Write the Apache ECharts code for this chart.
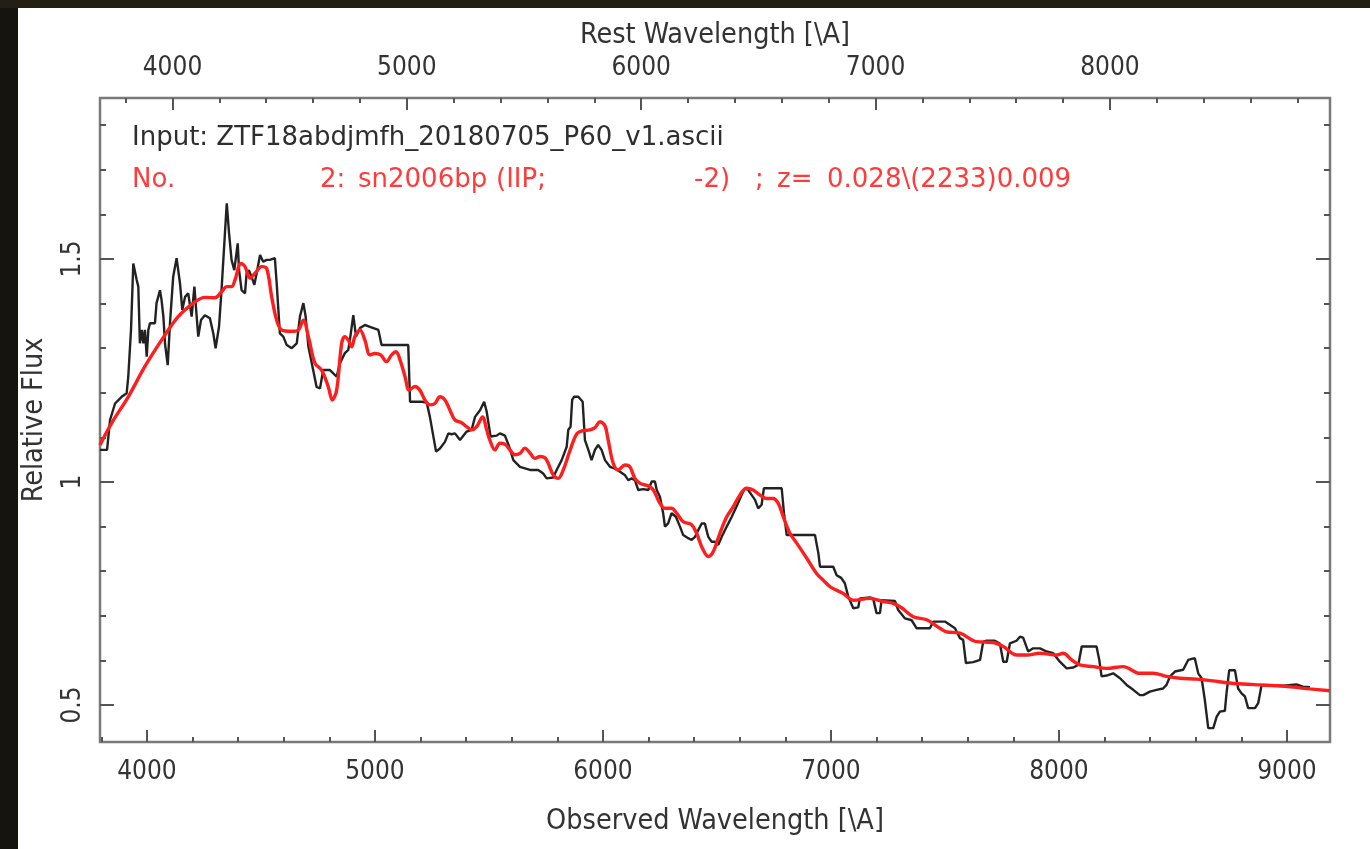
<!DOCTYPE html>
<html><head><meta charset="utf-8">
<script src="https://cdn.jsdelivr.net/npm/echarts@6/dist/echarts.min.js"></script>
<style>html,body{margin:0;padding:0;background:#fff;}#c{width:1370px;height:849px;}</style>
</head><body><div id="c"></div>
<script>
// Observed spectrum (black)
const obsWave = [3794,3825,3838,3860,3889,3911,3918,3930,3940,3955,3962,3969,3977,3984,3991,3999,4006,4013,4035,4042,4057,4064,4072,4079,4091,4101,4115,4130,4145,4155,4167,4181,4196,4208,4218,4225,4237,4254,4276,4291,4301,4316,4328,4342,4350,4360,4371,4383,4398,4404,4415,4430,4437,4447,4459,4471,4481,4496,4510,4525,4539,4561,4569,4583,4598,4613,4635,4657,4671,4686,4696,4708,4729,4744,4759,4773,4803,4832,4846,4868,4883,4890,4905,4917,4934,4956,4978,5015,5029,5146,5154,5205,5227,5241,5268,5285,5307,5322,5336,5351,5373,5402,5424,5439,5461,5479,5490,5507,5534,5548,5570,5589,5607,5636,5680,5716,5738,5753,5782,5797,5819,5841,5848,5858,5865,5873,5892,5911,5921,5936,5950,5965,5979,5994,6009,6031,6053,6075,6097,6111,6126,6140,6155,6177,6199,6214,6228,6236,6250,6264,6272,6286,6301,6320,6338,6352,6374,6389,6404,6418,6433,6447,6462,6477,6491,6506,6521,6543,6565,6586,6608,6623,6637,6652,6667,6681,6696,6706,6784,6794,6806,6930,6945,6952,7010,7025,7045,7061,7076,7098,7120,7127,7171,7185,7200,7215,7222,7281,7295,7325,7354,7376,7434,7449,7500,7544,7566,7580,7592,7624,7654,7668,7683,7719,7741,7756,7771,7785,7814,7829,7843,7865,7887,7917,7946,7975,8004,8034,8063,8085,8100,8165,8177,8187,8209,8238,8268,8297,8326,8355,8370,8399,8428,8457,8472,8487,8509,8545,8567,8596,8611,8626,8640,8655,8677,8692,8706,8728,8735,8747,8772,8786,8801,8816,8830,8860,8874,8889,8984,9042,9070,9101];
const obsFlux = [1.072,1.072,1.139,1.176,1.191,1.199,1.236,1.341,1.490,1.453,1.438,1.311,1.341,1.311,1.341,1.281,1.341,1.356,1.356,1.401,1.430,1.408,1.371,1.311,1.262,1.356,1.460,1.502,1.445,1.386,1.415,1.423,1.371,1.438,1.371,1.326,1.363,1.374,1.367,1.333,1.300,1.348,1.438,1.558,1.625,1.558,1.498,1.475,1.535,1.475,1.430,1.423,1.468,1.475,1.460,1.442,1.468,1.509,1.494,1.498,1.498,1.502,1.445,1.333,1.326,1.307,1.300,1.311,1.371,1.401,1.371,1.304,1.251,1.213,1.210,1.251,1.251,1.236,1.266,1.289,1.296,1.318,1.374,1.326,1.345,1.352,1.348,1.341,1.307,1.307,1.180,1.180,1.178,1.146,1.068,1.075,1.090,1.109,1.107,1.109,1.094,1.113,1.117,1.146,1.161,1.180,1.158,1.102,1.104,1.109,1.104,1.079,1.049,1.034,1.027,1.027,1.019,1.008,1.010,1.027,1.049,1.079,1.117,1.124,1.184,1.191,1.191,1.180,1.094,1.072,1.049,1.072,1.083,1.072,1.049,1.034,1.030,1.023,1.015,1.004,1.008,1.004,0.982,0.984,0.982,1.001,1.001,0.982,0.967,0.930,0.900,0.907,0.930,0.922,0.900,0.881,0.874,0.870,0.877,0.892,0.907,0.907,0.877,0.866,0.866,0.859,0.877,0.900,0.922,0.945,0.971,0.986,0.982,0.971,0.960,0.941,0.949,0.986,0.986,0.930,0.881,0.881,0.840,0.810,0.810,0.791,0.785,0.773,0.743,0.717,0.719,0.739,0.741,0.739,0.706,0.706,0.735,0.733,0.713,0.694,0.690,0.672,0.672,0.687,0.687,0.672,0.650,0.646,0.594,0.596,0.601,0.642,0.644,0.644,0.638,0.597,0.597,0.638,0.644,0.653,0.651,0.620,0.627,0.627,0.620,0.616,0.597,0.582,0.584,0.590,0.631,0.631,0.601,0.564,0.566,0.571,0.560,0.545,0.534,0.522,0.522,0.530,0.534,0.537,0.545,0.564,0.575,0.579,0.601,0.605,0.571,0.560,0.511,0.448,0.448,0.474,0.485,0.487,0.526,0.578,0.578,0.537,0.526,0.519,0.493,0.493,0.504,0.545,0.543,0.546,0.541,0.540];
// Template sn2006bp (red)
const tplWave = [3794,3845,3918,3991,4064,4137,4211,4254,4298,4328,4350,4371,4386,4412,4430,4452,4474,4503,4525,4547,4569,4591,4635,4664,4686,4708,4737,4766,4795,4813,4832,4854,4868,4883,4898,4912,4934,4956,4978,5000,5025,5051,5073,5092,5110,5132,5150,5175,5197,5219,5241,5263,5285,5307,5329,5351,5380,5402,5424,5446,5472,5490,5504,5526,5548,5570,5592,5614,5636,5658,5680,5702,5724,5746,5760,5782,5804,5826,5855,5885,5910,5943,5965,5987,6009,6023,6045,6067,6097,6118,6140,6162,6199,6221,6250,6272,6301,6323,6352,6389,6411,6433,6462,6484,6513,6543,6572,6601,6630,6659,6688,6717,6747,6769,6791,6820,6850,6894,6937,6966,6997,7054,7098,7171,7229,7273,7310,7361,7420,7478,7507,7566,7639,7712,7756,7815,7860,7917,7990,8019,8056,8092,8151,8209,8282,8355,8414,8472,8531,8604,8676,8735,8808,8881,8954,9027,9100,9189];
const tplFlux = [1.083,1.132,1.191,1.259,1.318,1.371,1.404,1.414,1.413,1.427,1.438,1.438,1.453,1.490,1.483,1.457,1.468,1.483,1.479,1.415,1.363,1.341,1.338,1.341,1.363,1.326,1.266,1.251,1.214,1.184,1.206,1.311,1.326,1.318,1.303,1.326,1.341,1.318,1.285,1.288,1.285,1.270,1.285,1.292,1.274,1.236,1.206,1.214,1.206,1.184,1.173,1.176,1.191,1.184,1.161,1.139,1.133,1.124,1.117,1.124,1.146,1.117,1.094,1.072,1.087,1.085,1.072,1.061,1.064,1.076,1.065,1.053,1.057,1.054,1.042,1.016,1.008,1.027,1.070,1.108,1.115,1.117,1.122,1.135,1.126,1.094,1.042,1.027,1.038,1.034,1.008,0.997,0.991,0.982,0.952,0.941,0.941,0.930,0.911,0.904,0.885,0.855,0.833,0.844,0.885,0.922,0.945,0.971,0.986,0.982,0.971,0.963,0.963,0.952,0.922,0.885,0.863,0.829,0.795,0.780,0.765,0.750,0.735,0.739,0.732,0.728,0.718,0.698,0.691,0.672,0.664,0.661,0.642,0.640,0.631,0.612,0.612,0.616,0.612,0.616,0.601,0.590,0.586,0.582,0.586,0.571,0.571,0.564,0.560,0.558,0.554,0.550,0.547,0.545,0.543,0.540,0.536,0.532];

const redshift = 0.028;
const obsMin = 3794, obsMax = 9189;
const fluxMin = 0.417, fluxMax = 1.861;
const obsMajor = [4000,5000,6000,7000,8000,9000];
const obsMinor = [3800,4200,4400,4600,4800,5200,5400,5600,5800,6200,6400,6600,6800,7200,7400,7600,7800,8200,8400,8600,8800];
const restMajor = [4000,5000,6000,7000,8000];
const restMinor = [3800,4200,4400,4600,4800,5200,5400,5600,5800,6200,6400,6600,6800,7200,7400,7600,7800,8200,8400,8600,8800];
const fluxMajor = [0.5,1,1.5];
const fluxMinor = [0.6,0.7,0.8,0.9,1.1,1.2,1.3,1.4,1.6,1.7,1.8];

const FONT = "'DejaVu Sans Condensed','DejaVu Sans',sans-serif";
const TXT = "'DejaVu Sans',sans-serif";
const tickCol = '#555';
const plain = function(v){ return String(v); };

function xAx(pos, min, max, ticks, len, labels, name, gap){
  return {type:'value', position:pos, min:min, max:max,
    axisLine:{show:false}, splitLine:{show:false},
    axisTick:{show:true, inside:true, length:len, customValues:ticks, lineStyle:{color:tickCol,width:2}},
    axisLabel:labels ? {show:true, customValues:labels, margin:17, fontSize:26, fontFamily:FONT, color:'#333', formatter:plain} : {show:false},
    name:name||'', nameLocation:'middle', nameGap:gap||0,
    nameTextStyle:{fontSize:28.5, fontFamily:FONT, color:'#333'}};
}
function yAx(pos, ticks, len, labels, name){
  return {type:'value', position:pos, min:fluxMin, max:fluxMax,
    axisLine:{show:false}, splitLine:{show:false},
    axisTick:{show:true, inside:true, length:len, customValues:ticks, lineStyle:{color:tickCol,width:2}},
    axisLabel:labels ? {show:true, customValues:labels, rotate:90, margin:14, fontSize:26, fontFamily:FONT, color:'#333', formatter:plain} : {show:false},
    name:name||'', nameLocation:'middle', nameGap:51, nameRotate:90,
    nameTextStyle:{fontSize:28.5, fontFamily:FONT, color:'#333'}};
}

const chart = echarts.init(document.getElementById('c'), null, {renderer:'canvas'});
chart.setOption({
  animation:false,
  backgroundColor:'#ffffff',
  grid:{left:100, top:98, right:40, bottom:107, show:true, backgroundColor:'#fff', borderColor:'#7a7a7a', borderWidth:2.5},
  xAxis:[
    xAx('bottom', obsMin, obsMax, obsMajor, 12, obsMajor, 'Observed Wavelength [\\A]', 65),
    xAx('bottom', obsMin, obsMax, obsMinor, 5, null),
    xAx('top', obsMin/(1+redshift), obsMax/(1+redshift), restMajor, 12, restMajor, 'Rest Wavelength [\\A]', 46),
    xAx('top', obsMin/(1+redshift), obsMax/(1+redshift), restMinor, 5, null)
  ],
  yAxis:[
    yAx('left', fluxMajor, 14, fluxMajor, 'Relative Flux'),
    yAx('left', fluxMinor, 6, null),
    yAx('right', fluxMajor, 14, null),
    yAx('right', fluxMinor, 6, null)
  ],
  series:[
    {type:'line', xAxisIndex:0, yAxisIndex:0, showSymbol:false, clip:true,
      data:obsWave.map((w,i)=>[w,obsFlux[i]]),
      lineStyle:{color:'#222', width:2.4}, z:2},
    {type:'line', xAxisIndex:0, yAxisIndex:0, showSymbol:false, clip:true, smooth:0.35,
      data:tplWave.map((w,i)=>[w,tplFlux[i]]),
      lineStyle:{color:'#ff1e1e', width:3.4}, z:3}
  ],
  graphic:[
    {type:'rect', shape:{x:0,y:0,width:18,height:849}, style:{fill:'#16140f'}, silent:true},
    {type:'rect', shape:{x:0,y:0,width:1370,height:8}, style:{fill:'#231f14'}, silent:true},
    {type:'text', x:132, y:138, style:{text:'Input: ZTF18abdjmfh_20180705_P60_v1.ascii', font:'26px '+TXT, fill:'#2e2e2e', verticalAlign:'middle'}},
    {type:'text', x:132, y:180, style:{text:'No.', font:'26px '+TXT, fill:'#ff3b3b', verticalAlign:'middle'}},
    {type:'text', x:320, y:180, style:{text:'2:', font:'26px '+TXT, fill:'#ff3b3b', verticalAlign:'middle'}},
    {type:'text', x:358, y:180, style:{text:'sn2006bp', font:'26px '+TXT, fill:'#ff3b3b', verticalAlign:'middle'}},
    {type:'text', x:496, y:180, style:{text:'(IIP;', font:'26px '+TXT, fill:'#ff3b3b', verticalAlign:'middle'}},
    {type:'text', x:694, y:180, style:{text:'-2)', font:'26px '+TXT, fill:'#ff3b3b', verticalAlign:'middle'}},
    {type:'text', x:755, y:180, style:{text:';', font:'26px '+TXT, fill:'#ff3b3b', verticalAlign:'middle'}},
    {type:'text', x:777, y:180, style:{text:'z=', font:'26px '+TXT, fill:'#ff3b3b', verticalAlign:'middle'}},
    {type:'text', x:827, y:180, style:{text:'0.028\\(2233)0.009', font:'26px '+TXT, fill:'#ff3b3b', verticalAlign:'middle'}}
  ]
});
</script></body></html>
